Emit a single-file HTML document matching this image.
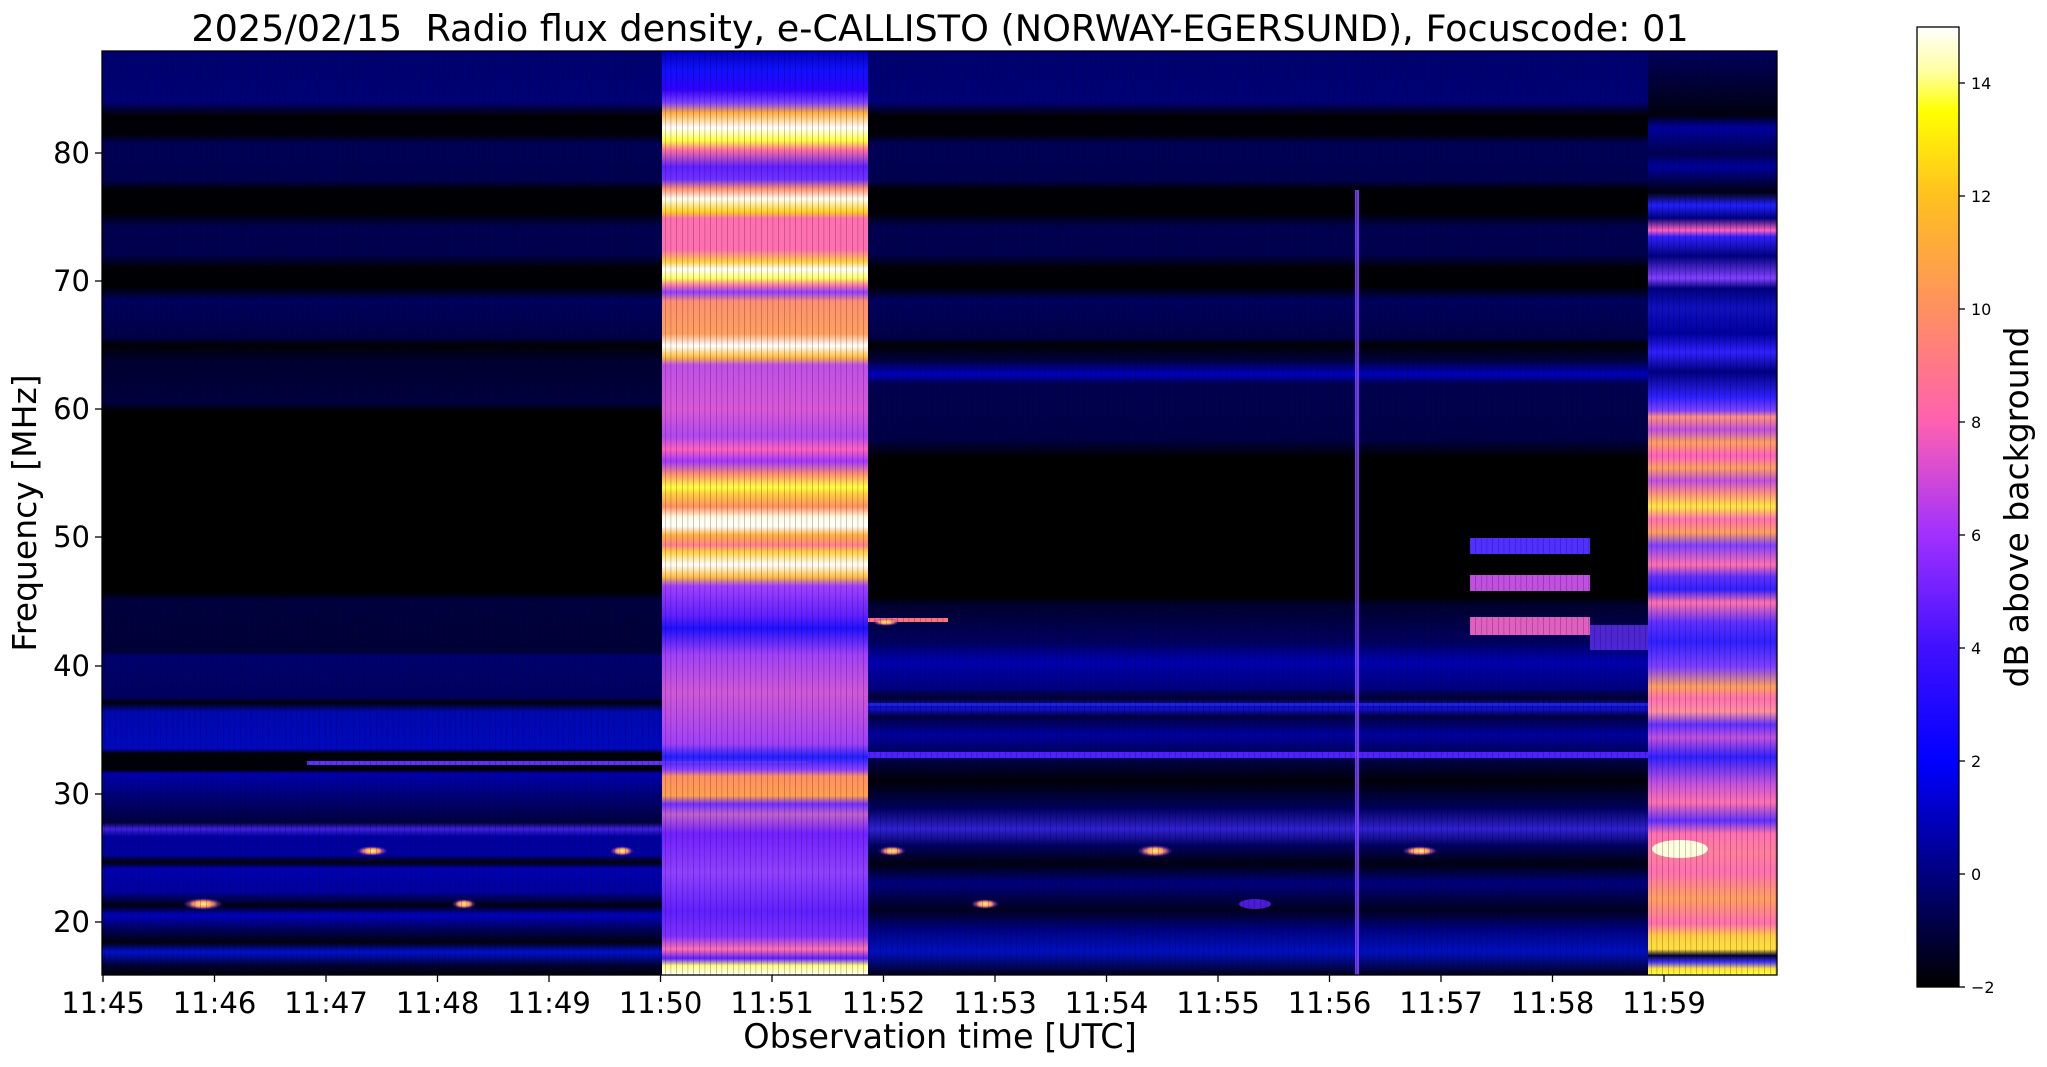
<!DOCTYPE html>
<html><head><meta charset="utf-8"><style>
html,body{margin:0;padding:0;background:#fff;}
svg{display:block;font-family:"DejaVu Sans","Liberation Sans",sans-serif;}
</style></head><body>
<svg width="2047" height="1067" viewBox="0 0 2047 1067" xmlns="http://www.w3.org/2000/svg">
<defs>
<linearGradient id="gL" x1="0" y1="0" x2="0" y2="1">
<stop offset="0" stop-color="#000070"/>
<stop offset="0.055" stop-color="#000078"/>
<stop offset="0.07" stop-color="#000004"/>
<stop offset="0.09" stop-color="#000008"/>
<stop offset="0.10" stop-color="#000058"/>
<stop offset="0.14" stop-color="#000050"/>
<stop offset="0.15" stop-color="#000004"/>
<stop offset="0.175" stop-color="#000004"/>
<stop offset="0.19" stop-color="#000050"/>
<stop offset="0.22" stop-color="#000050"/>
<stop offset="0.235" stop-color="#000004"/>
<stop offset="0.255" stop-color="#000004"/>
<stop offset="0.27" stop-color="#000060"/>
<stop offset="0.31" stop-color="#000048"/>
<stop offset="0.318" stop-color="#000004"/>
<stop offset="0.335" stop-color="#000030"/>
<stop offset="0.38" stop-color="#000040"/>
<stop offset="0.39" stop-color="#000000"/>
<stop offset="0.585" stop-color="#000000"/>
<stop offset="0.595" stop-color="#000040"/>
<stop offset="0.65" stop-color="#000038"/>
<stop offset="0.655" stop-color="#000070"/>
<stop offset="0.70" stop-color="#000060"/>
<stop offset="0.705" stop-color="#000004"/>
<stop offset="0.715" stop-color="#0008b0"/>
<stop offset="0.755" stop-color="#0008c0"/>
<stop offset="0.76" stop-color="#000008"/>
<stop offset="0.778" stop-color="#000008"/>
<stop offset="0.782" stop-color="#0000b0"/>
<stop offset="0.81" stop-color="#000070"/>
<stop offset="0.835" stop-color="#000040"/>
<stop offset="0.842" stop-color="#4020e0"/>
<stop offset="0.85" stop-color="#0000a0"/>
<stop offset="0.87" stop-color="#0000a0"/>
<stop offset="0.878" stop-color="#000008"/>
<stop offset="0.885" stop-color="#0000b0"/>
<stop offset="0.91" stop-color="#0000a0"/>
<stop offset="0.925" stop-color="#000010"/>
<stop offset="0.935" stop-color="#0000c0"/>
<stop offset="0.95" stop-color="#000060"/>
<stop offset="0.965" stop-color="#000010"/>
<stop offset="0.975" stop-color="#0010d0"/>
<stop offset="0.99" stop-color="#000030"/>
<stop offset="1" stop-color="#000010"/>
</linearGradient>
<linearGradient id="gM" x1="0" y1="0" x2="0" y2="1">
<stop offset="0" stop-color="#000070"/>
<stop offset="0.055" stop-color="#000078"/>
<stop offset="0.07" stop-color="#000004"/>
<stop offset="0.09" stop-color="#000008"/>
<stop offset="0.10" stop-color="#000058"/>
<stop offset="0.14" stop-color="#000050"/>
<stop offset="0.15" stop-color="#000004"/>
<stop offset="0.175" stop-color="#000004"/>
<stop offset="0.19" stop-color="#000050"/>
<stop offset="0.22" stop-color="#000050"/>
<stop offset="0.235" stop-color="#000004"/>
<stop offset="0.255" stop-color="#000004"/>
<stop offset="0.27" stop-color="#000060"/>
<stop offset="0.31" stop-color="#000048"/>
<stop offset="0.318" stop-color="#000004"/>
<stop offset="0.335" stop-color="#000040"/>
<stop offset="0.35" stop-color="#0000c0"/>
<stop offset="0.36" stop-color="#000050"/>
<stop offset="0.42" stop-color="#000048"/>
<stop offset="0.44" stop-color="#000000"/>
<stop offset="0.59" stop-color="#000000"/>
<stop offset="0.60" stop-color="#000030"/>
<stop offset="0.64" stop-color="#000060"/>
<stop offset="0.66" stop-color="#0000b0"/>
<stop offset="0.69" stop-color="#000080"/>
<stop offset="0.70" stop-color="#000030"/>
<stop offset="0.712" stop-color="#1010d0"/>
<stop offset="0.72" stop-color="#000040"/>
<stop offset="0.74" stop-color="#0000a0"/>
<stop offset="0.77" stop-color="#000040"/>
<stop offset="0.79" stop-color="#000008"/>
<stop offset="0.82" stop-color="#000060"/>
<stop offset="0.842" stop-color="#3020d0"/>
<stop offset="0.86" stop-color="#000060"/>
<stop offset="0.88" stop-color="#000010"/>
<stop offset="0.90" stop-color="#000080"/>
<stop offset="0.93" stop-color="#000020"/>
<stop offset="0.95" stop-color="#000080"/>
<stop offset="0.975" stop-color="#0010c0"/>
<stop offset="1" stop-color="#000020"/>
</linearGradient>
<linearGradient id="gB" x1="0" y1="0" x2="0" y2="1">
<stop offset="0" stop-color="#0000c0"/>
<stop offset="0.021" stop-color="#1010ff"/>
<stop offset="0.042" stop-color="#3000ff"/>
<stop offset="0.056" stop-color="#8040ff"/>
<stop offset="0.067" stop-color="#ffb040"/>
<stop offset="0.083" stop-color="#ffffff"/>
<stop offset="0.097" stop-color="#ffff40"/>
<stop offset="0.107" stop-color="#ff70a0"/>
<stop offset="0.125" stop-color="#6020ff"/>
<stop offset="0.139" stop-color="#7030ff"/>
<stop offset="0.149" stop-color="#ff9070"/>
<stop offset="0.16" stop-color="#fffff0"/>
<stop offset="0.174" stop-color="#ffd020"/>
<stop offset="0.181" stop-color="#ff70b0"/>
<stop offset="0.215" stop-color="#ff70b0"/>
<stop offset="0.228" stop-color="#ffd040"/>
<stop offset="0.236" stop-color="#ffffff"/>
<stop offset="0.246" stop-color="#ffff60"/>
<stop offset="0.253" stop-color="#ff80a0"/>
<stop offset="0.261" stop-color="#9040ff"/>
<stop offset="0.271" stop-color="#ff9070"/>
<stop offset="0.306" stop-color="#ffa060"/>
<stop offset="0.319" stop-color="#ffffff"/>
<stop offset="0.331" stop-color="#ffc040"/>
<stop offset="0.34" stop-color="#c050e8"/>
<stop offset="0.389" stop-color="#d858d8"/>
<stop offset="0.417" stop-color="#b048f0"/>
<stop offset="0.431" stop-color="#ff60c0"/>
<stop offset="0.444" stop-color="#a038ff"/>
<stop offset="0.458" stop-color="#ff9070"/>
<stop offset="0.472" stop-color="#ffff40"/>
<stop offset="0.479" stop-color="#ffd040"/>
<stop offset="0.493" stop-color="#ff9060"/>
<stop offset="0.504" stop-color="#fff8e0"/>
<stop offset="0.514" stop-color="#ffffff"/>
<stop offset="0.524" stop-color="#ffb040"/>
<stop offset="0.535" stop-color="#ff8090"/>
<stop offset="0.542" stop-color="#ffd040"/>
<stop offset="0.556" stop-color="#ffffff"/>
<stop offset="0.569" stop-color="#ffc040"/>
<stop offset="0.579" stop-color="#a040ff"/>
<stop offset="0.611" stop-color="#6020ff"/>
<stop offset="0.625" stop-color="#2010ff"/>
<stop offset="0.653" stop-color="#a040f8"/>
<stop offset="0.694" stop-color="#d058d8"/>
<stop offset="0.75" stop-color="#a040f8"/>
<stop offset="0.764" stop-color="#2020ff"/>
<stop offset="0.778" stop-color="#9040ff"/>
<stop offset="0.785" stop-color="#ff9060"/>
<stop offset="0.806" stop-color="#ffa050"/>
<stop offset="0.815" stop-color="#7030ff"/>
<stop offset="0.826" stop-color="#c060d0"/>
<stop offset="0.847" stop-color="#7020ff"/>
<stop offset="0.889" stop-color="#9040ff"/>
<stop offset="0.931" stop-color="#6020ff"/>
<stop offset="0.958" stop-color="#8030ff"/>
<stop offset="0.972" stop-color="#ff70b0"/>
<stop offset="0.982" stop-color="#6020ff"/>
<stop offset="0.99" stop-color="#ffff80"/>
<stop offset="1" stop-color="#ffffff"/>
</linearGradient>
<linearGradient id="gR" x1="0" y1="0" x2="0" y2="1">
<stop offset="0" stop-color="#000060"/>
<stop offset="0.069" stop-color="#000010"/>
<stop offset="0.083" stop-color="#0000a0"/>
<stop offset="0.111" stop-color="#000050"/>
<stop offset="0.125" stop-color="#0000a0"/>
<stop offset="0.153" stop-color="#000010"/>
<stop offset="0.167" stop-color="#2020ff"/>
<stop offset="0.181" stop-color="#000080"/>
<stop offset="0.194" stop-color="#ff60c0"/>
<stop offset="0.201" stop-color="#3020ff"/>
<stop offset="0.222" stop-color="#000080"/>
<stop offset="0.246" stop-color="#8040ff"/>
<stop offset="0.257" stop-color="#000080"/>
<stop offset="0.278" stop-color="#1010c0"/>
<stop offset="0.306" stop-color="#0000a0"/>
<stop offset="0.326" stop-color="#3020ff"/>
<stop offset="0.347" stop-color="#000080"/>
<stop offset="0.375" stop-color="#3020ff"/>
<stop offset="0.389" stop-color="#8040ff"/>
<stop offset="0.396" stop-color="#ff9080"/>
<stop offset="0.410" stop-color="#c050e0"/>
<stop offset="0.424" stop-color="#ffa060"/>
<stop offset="0.438" stop-color="#ff60c0"/>
<stop offset="0.451" stop-color="#ffa060"/>
<stop offset="0.465" stop-color="#c050e0"/>
<stop offset="0.479" stop-color="#ff9080"/>
<stop offset="0.493" stop-color="#ffe840"/>
<stop offset="0.507" stop-color="#ff70b0"/>
<stop offset="0.521" stop-color="#ffa060"/>
<stop offset="0.535" stop-color="#8040ff"/>
<stop offset="0.556" stop-color="#ff70b0"/>
<stop offset="0.569" stop-color="#6030ff"/>
<stop offset="0.583" stop-color="#3020ff"/>
<stop offset="0.597" stop-color="#ff70b0"/>
<stop offset="0.618" stop-color="#6030ff"/>
<stop offset="0.639" stop-color="#3020ff"/>
<stop offset="0.667" stop-color="#8040ff"/>
<stop offset="0.688" stop-color="#ffa060"/>
<stop offset="0.701" stop-color="#ff70b0"/>
<stop offset="0.715" stop-color="#ff90a0"/>
<stop offset="0.729" stop-color="#6030ff"/>
<stop offset="0.743" stop-color="#c050e0"/>
<stop offset="0.764" stop-color="#3020ff"/>
<stop offset="0.792" stop-color="#c050e0"/>
<stop offset="0.813" stop-color="#ff70b0"/>
<stop offset="0.833" stop-color="#6030ff"/>
<stop offset="0.847" stop-color="#ff70b0"/>
<stop offset="0.868" stop-color="#ff80a0"/>
<stop offset="0.889" stop-color="#ff70b0"/>
<stop offset="0.917" stop-color="#ffa060"/>
<stop offset="0.944" stop-color="#ff70b0"/>
<stop offset="0.958" stop-color="#ffd040"/>
<stop offset="0.972" stop-color="#ffe040"/>
<stop offset="0.979" stop-color="#000030"/>
<stop offset="0.986" stop-color="#4030ff"/>
<stop offset="0.993" stop-color="#ffe040"/>
<stop offset="1" stop-color="#ffff40"/>
</linearGradient>
<linearGradient id="gC" x1="0" y1="0" x2="0" y2="1">
<stop offset="0" stop-color="#ffffff"/>
<stop offset="0.047" stop-color="#ffffa0"/>
<stop offset="0.088" stop-color="#ffff00"/>
<stop offset="0.176" stop-color="#ffc020"/>
<stop offset="0.294" stop-color="#ff9060"/>
<stop offset="0.412" stop-color="#ff60b0"/>
<stop offset="0.53" stop-color="#a030ff"/>
<stop offset="0.647" stop-color="#4010ff"/>
<stop offset="0.765" stop-color="#0000ff"/>
<stop offset="0.882" stop-color="#000080"/>
<stop offset="1" stop-color="#000000"/>
</linearGradient>
<pattern id="noise" patternUnits="userSpaceOnUse" width="17" height="924">
<rect x="2" y="0" width="1" height="924" fill="#000" opacity="0.2"/>
<rect x="7" y="0" width="1.5" height="924" fill="#000" opacity="0.12"/>
<rect x="13" y="0" width="1" height="924" fill="#000" opacity="0.22"/>
</pattern>
<radialGradient id="spot"><stop offset="0" stop-color="#ffff80"/><stop offset="0.5" stop-color="#ff9060"/><stop offset="1" stop-color="#6020ff" stop-opacity="0"/></radialGradient>
</defs>

<g>
<rect x="102" y="51" width="560" height="924" fill="url(#gL)"/>
<rect x="662" y="51" width="206" height="924" fill="url(#gB)"/>
<rect x="868" y="51" width="780" height="924" fill="url(#gM)"/>
<rect x="1648" y="51" width="129" height="924" fill="url(#gR)"/>
<rect x="307" y="761" width="500" height="4" fill="#6030ff"/>
<rect x="868" y="752" width="780" height="6" fill="#5020ff"/>
<rect x="868" y="703" width="780" height="3" fill="#2020e0"/>
<rect x="868" y="618" width="80" height="4" fill="#ff7080"/>
<rect x="1355" y="190" width="4" height="785" fill="#8040ff" opacity="0.9"/>
<rect x="1470" y="538" width="120" height="16" fill="#5030ff"/>
<rect x="1470" y="575" width="120" height="16" fill="#c050e0"/>
<rect x="1470" y="617" width="120" height="18" fill="#e060c0"/>
<rect x="1590" y="625" width="58" height="25" fill="#6030f0" opacity="0.8"/>
<ellipse cx="203" cy="904" rx="20" ry="6" fill="url(#spot)"/>
<ellipse cx="372" cy="851" rx="16" ry="5" fill="url(#spot)"/>
<ellipse cx="464" cy="904" rx="12" ry="5" fill="url(#spot)"/>
<ellipse cx="622" cy="851" rx="12" ry="5" fill="url(#spot)"/>
<ellipse cx="892" cy="851" rx="14" ry="5" fill="url(#spot)"/>
<ellipse cx="886" cy="622" rx="14" ry="4" fill="url(#spot)"/>
<ellipse cx="985" cy="904" rx="14" ry="5" fill="url(#spot)"/>
<ellipse cx="1155" cy="851" rx="18" ry="6" fill="url(#spot)"/>
<ellipse cx="1255" cy="904" rx="16" ry="5" fill="#6020ff" opacity="0.8"/>
<ellipse cx="1420" cy="851" rx="18" ry="5" fill="url(#spot)"/>
<ellipse cx="1680" cy="849" rx="28" ry="9" fill="#ffffe0"/>
<rect x="102" y="51" width="1675" height="924" fill="url(#noise)"/>
<rect x="102" y="51" width="1675" height="924" fill="none" stroke="#000" stroke-width="1.3"/>
</g>

<g stroke="#000" stroke-width="1.3">
<line x1="95" y1="153" x2="102" y2="153"/>
<line x1="95" y1="281" x2="102" y2="281"/>
<line x1="95" y1="409" x2="102" y2="409"/>
<line x1="95" y1="537" x2="102" y2="537"/>
<line x1="95" y1="666" x2="102" y2="666"/>
<line x1="95" y1="794" x2="102" y2="794"/>
<line x1="95" y1="922" x2="102" y2="922"/>
</g>
<g font-size="29" text-anchor="end" fill="#000">
<text x="90" y="163">80</text>
<text x="90" y="291">70</text>
<text x="90" y="419">60</text>
<text x="90" y="547">50</text>
<text x="90" y="676">40</text>
<text x="90" y="804">30</text>
<text x="90" y="932">20</text>
</g>
<g stroke="#000" stroke-width="1.3">
<line x1="103" y1="975" x2="103" y2="982"/>
<line x1="214.5" y1="975" x2="214.5" y2="982"/>
<line x1="326" y1="975" x2="326" y2="982"/>
<line x1="437.5" y1="975" x2="437.5" y2="982"/>
<line x1="549" y1="975" x2="549" y2="982"/>
<line x1="660.5" y1="975" x2="660.5" y2="982"/>
<line x1="772" y1="975" x2="772" y2="982"/>
<line x1="883.5" y1="975" x2="883.5" y2="982"/>
<line x1="995" y1="975" x2="995" y2="982"/>
<line x1="1106.5" y1="975" x2="1106.5" y2="982"/>
<line x1="1218" y1="975" x2="1218" y2="982"/>
<line x1="1329.5" y1="975" x2="1329.5" y2="982"/>
<line x1="1441" y1="975" x2="1441" y2="982"/>
<line x1="1552.5" y1="975" x2="1552.5" y2="982"/>
<line x1="1664" y1="975" x2="1664" y2="982"/>
</g>
<g font-size="29" text-anchor="middle" fill="#000">
<text x="103" y="1013">11:45</text>
<text x="214.5" y="1013">11:46</text>
<text x="326" y="1013">11:47</text>
<text x="437.5" y="1013">11:48</text>
<text x="549" y="1013">11:49</text>
<text x="660.5" y="1013">11:50</text>
<text x="772" y="1013">11:51</text>
<text x="883.5" y="1013">11:52</text>
<text x="995" y="1013">11:53</text>
<text x="1106.5" y="1013">11:54</text>
<text x="1218" y="1013">11:55</text>
<text x="1329.5" y="1013">11:56</text>
<text x="1441" y="1013">11:57</text>
<text x="1552.5" y="1013">11:58</text>
<text x="1664" y="1013">11:59</text>
</g>
<text x="940" y="1048" font-size="33.5" text-anchor="middle">Observation time [UTC]</text>
<text transform="translate(36,513) rotate(-90)" font-size="33" text-anchor="middle">Frequency [MHz]</text>
<text x="940" y="41" font-size="36.6" text-anchor="middle" xml:space="preserve">2025/02/15  Radio flux density, e-CALLISTO (NORWAY-EGERSUND), Focuscode: 01</text>

<rect x="1917" y="27" width="42" height="960" fill="url(#gC)" stroke="#000" stroke-width="1.3"/>
<g stroke="#000" stroke-width="1.3">
<line x1="1959" y1="83" x2="1965" y2="83"/>
<line x1="1959" y1="196" x2="1965" y2="196"/>
<line x1="1959" y1="309" x2="1965" y2="309"/>
<line x1="1959" y1="422" x2="1965" y2="422"/>
<line x1="1959" y1="535" x2="1965" y2="535"/>
<line x1="1959" y1="648" x2="1965" y2="648"/>
<line x1="1959" y1="761" x2="1965" y2="761"/>
<line x1="1959" y1="874" x2="1965" y2="874"/>
<line x1="1959" y1="987" x2="1965" y2="987"/>
</g>
<g font-size="16" fill="#000">
<text x="1971" y="89">14</text>
<text x="1971" y="202">12</text>
<text x="1971" y="315">10</text>
<text x="1971" y="428">8</text>
<text x="1971" y="541">6</text>
<text x="1971" y="654">4</text>
<text x="1971" y="767">2</text>
<text x="1971" y="880">0</text>
<text x="1971" y="993">−2</text>
</g>
<text transform="translate(2028,507) rotate(-90)" font-size="33" text-anchor="middle">dB above background</text>
</svg>
</body></html>
